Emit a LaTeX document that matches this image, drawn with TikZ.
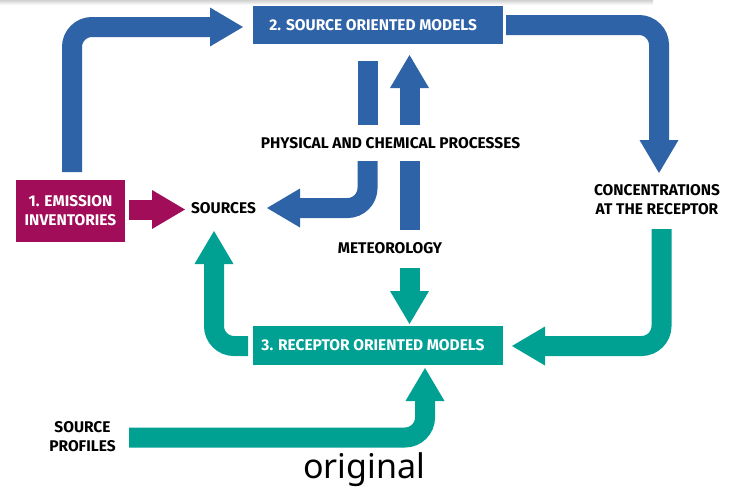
\documentclass[tikz,border=0pt]{standalone}
\usepackage{fontspec}
\setmainfont{Fira Sans}
\newfontfamily\lab{Fira Sans}
\newfontfamily\orig{Noto Sans}
\usetikzlibrary{arrows.meta}
\definecolor{eublue}{RGB}{47,99,167}
\definecolor{eumag}{RGB}{161,13,89}
\definecolor{euteal}{RGB}{0,160,146}
\begin{document}
\begin{tikzpicture}[x=1pt,y=-1pt,
  txt/.style={font=\lab\bfseries\fontsize{15.5}{19}\selectfont, align=center, inner sep=0pt, text=black},
  box/.style={txt, text=white, inner sep=0pt},
  fat/.style={line width=20pt, rounded corners=20pt, -{Triangle[length=33pt,width=39pt,line width=0pt]}},
  bar/.style={line width=20pt}
]
\useasboundingbox (0,0) rectangle (734,488);
\shade[top color=black!18, bottom color=white] (0,0) rectangle (653,5);

% boxes
\node[box, fill=eublue, minimum width=249.5pt, minimum height=38pt] (b2) at (377.75,25) {2. SOURCE ORIENTED MODELS\hspace*{9pt}};
\node[box, fill=eumag, minimum width=109pt, minimum height=62pt] (b1) at (70.5,211) {1. EMISSION\\INVENTORIES};
\node[box, fill=euteal, minimum width=250pt, minimum height=39pt] (b3) at (378,345.5) {3. RECEPTOR ORIENTED MODELS\hspace*{10pt}};

% labels
\node[txt] (phys) at (390.5,143) {PHYSICAL AND CHEMICAL PROCESSES};
\node[txt] (src) at (223.5,208) {SOURCES};
\node[txt] (conc) at (657,200) {CONCENTRATIONS\\AT THE RECEPTOR};
\node[txt] (met) at (390,248) {METEOROLOGY};
\node[txt] (prof) at (82.5,436.5) {SOURCE\\PROFILES};
\node[font=\orig\fontsize{34}{40}\selectfont, inner sep=0pt, anchor=base] (orig) at (364,478) {original};

% coordinates
\coordinate (a1s) at (72,172);
\coordinate (a1e) at (243,27);
\coordinate (a2s) at (506,25);
\coordinate (a2e) at (659,173);
\coordinate (a3t) at (367.5,61);
\coordinate (a3m) at (367.5,125);
\coordinate (a3s) at (367.5,161);
\coordinate (a3e) at (267,208);
\coordinate (a4s) at (409.5,230);
\coordinate (a4m) at (409.5,161);
\coordinate (a4n) at (409.5,125);
\coordinate (a4e) at (409.5,55);
\coordinate (a5s) at (129,209.5);
\coordinate (a5e) at (185,209.5);
\coordinate (a6s) at (248,346);
\coordinate (a6e) at (214,231);
\coordinate (a7s) at (409.5,268);
\coordinate (a7e) at (409.5,324);
\coordinate (a8s) at (661.5,229);
\coordinate (a8e) at (512,346);
\coordinate (a9s) at (129,437.5);
\coordinate (a9e) at (425,368);

% blue arrows
\draw[fat, eublue] (a1s) |- (a1e);
\draw[fat, eublue] (a2s) -| (a2e);
\draw[bar, eublue] (a3t) -- (a3m);
\draw[fat, eublue] (a3s) |- (a3e);
\draw[bar, eublue] (a4s) -- (a4m);
\draw[fat, eublue] (a4n) -- (a4e);
% magenta
\draw[fat, eumag] (a5s) -- (a5e);
% teal
\draw[fat, euteal] (a6s) -| (a6e);
\draw[fat, euteal] (a7s) -- (a7e);
\draw[fat, euteal] (a8s) |- (a8e);
\draw[fat, euteal] (a9s) -| (a9e);
\end{tikzpicture}
\end{document}
